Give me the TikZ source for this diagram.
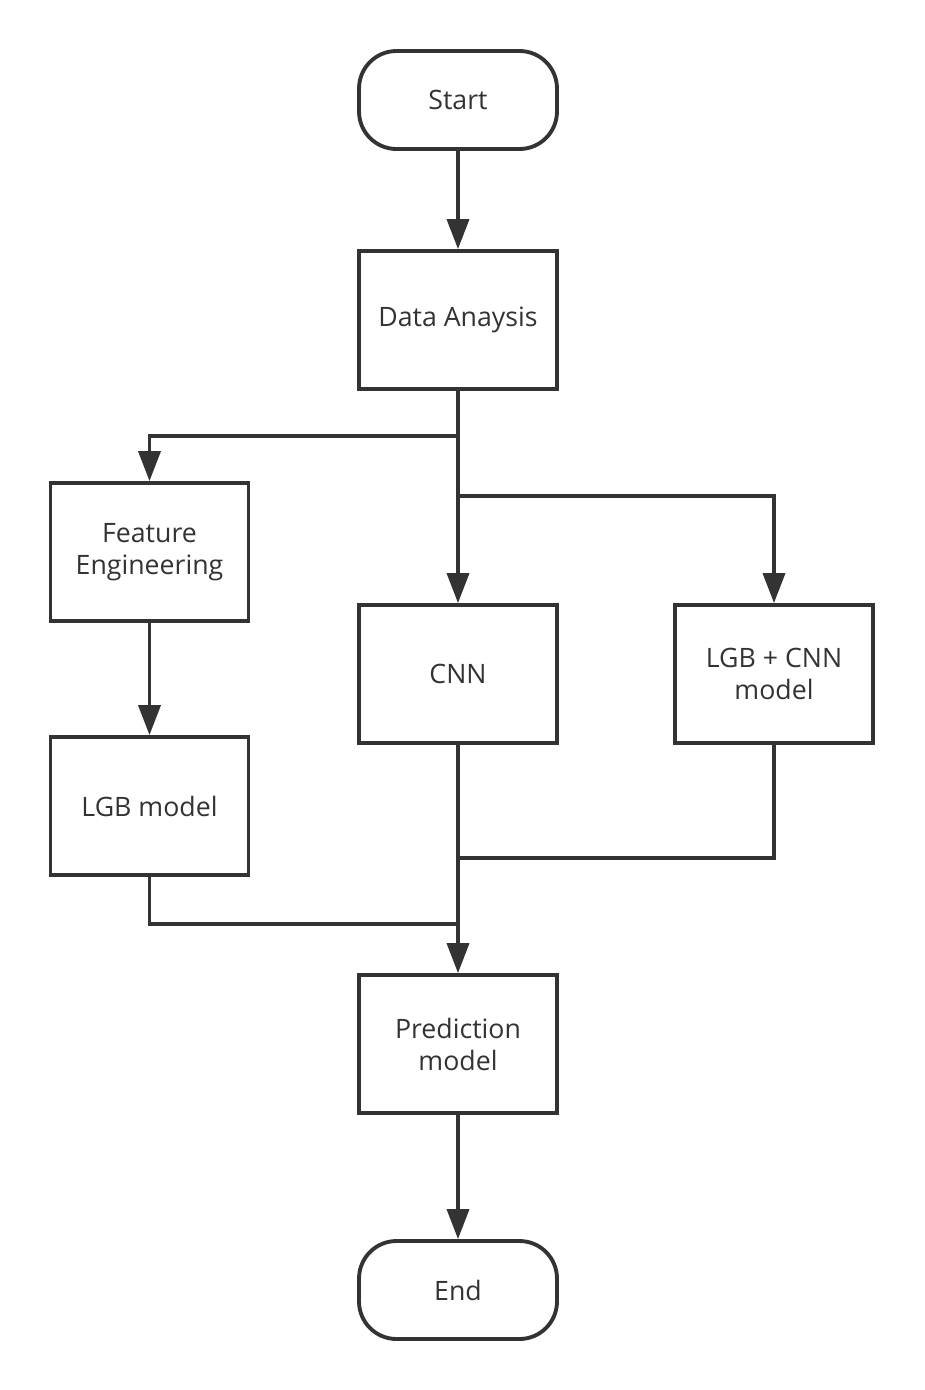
\documentclass[tikz,border=0pt]{standalone}
\usepackage{fontspec}
\setmainfont{Open Sans}
\usetikzlibrary{arrows.meta}
\definecolor{ink}{HTML}{333333}

\begin{document}
\begin{tikzpicture}[x=0.02cm, y=-0.02cm,
		box/.style = {draw=ink, line width=2.2pt, minimum width=3.96cm, minimum height=2.76cm, inner sep=0pt, align=center, text=ink, font=\fontsize{15.2}{18.2}\selectfont},
		term/.style = {box, rounded corners=0.75cm, minimum height=1.96cm},
		line/.style = {draw=ink, line width=2pt},
		arr/.style = {line, -{Triangle[length=17pt, width=12.5pt]}}]
		\useasboundingbox (0,0) rectangle (924,1390);
		\node [term] (start) at (458,100) {Start};
		\node [box] (ana) at (458,320) {Data Anaysis};
		\node [box] (fe) at (149.5,552) {Feature\\Engineering};
		\node [box] (cnn) at (458,674) {CNN};
		\node [box] (mix) at (774,674) {LGB + CNN\\model};
		\node [box] (lgb) at (149.5,806) {LGB model};
		\node [box] (pred) at (458,1044) {Prediction\\model};
		\node [term] (end) at (458,1290) {End};
		\coordinate (b1) at (458,436);
		\coordinate (b2) at (458,496);
		\coordinate (m1) at (458,858);
		\coordinate (m2) at (458,924);
		\draw [arr] (start) -- (ana);
		\draw [arr] (b1) -| (fe.north);
		\draw [arr] (ana) -- (cnn);
		\draw [arr] (b2) -| (mix.north);
		\draw [arr] (fe) -- (lgb);
		\draw [line] (mix.south) |- (m1);
		\draw [line] (lgb.south) |- (m2);
		\draw [arr] (cnn) -- (pred);
		\draw [arr] (pred) -- (end);
	\end{tikzpicture}
\end{document}
